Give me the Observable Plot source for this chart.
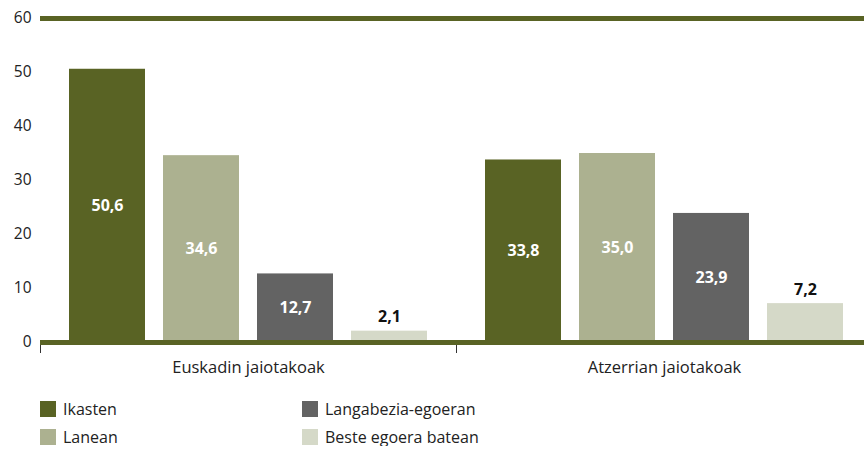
<!DOCTYPE html>
<html>
<head>
<meta charset="utf-8">
<script src="https://cdn.jsdelivr.net/npm/d3@7"></script>
<script src="https://cdn.jsdelivr.net/npm/@observablehq/plot@0.6"></script>
<style>
  body { margin: 0; background: #fff; font-family: "Open Sans", sans-serif; overflow: hidden; }
  #chart svg { display: block; }
  #legend { display: grid; grid-template-columns: 262px 320px; padding-left: 40px; row-gap: 10px; margin-top: 12px; font-size: 16px; color: #222; }
  .item { display: flex; align-items: center; height: 18px; line-height: 18px; white-space: nowrap; }
  .sw { width: 16px; height: 16px; margin-right: 7px; flex: none; }
</style>
</head>
<body>
<div id="chart"></div>
<div id="legend"></div>
<script>
const groups = ["Euskadin jaiotakoak", "Atzerrian jaiotakoak"];
const categories = ["Ikasten", "Lanean", "Langabezia-egoeran", "Beste egoera batean"];
const euskadi = [50.6, 34.6, 12.7, 2.1];
const atzerri = [33.8, 35.0, 23.9, 7.2];
const colors = ["#596324", "#acb190", "#636363", "#d5d9c8"];
const yTicks = [0, 10, 20, 30, 40, 50, 60];

const series = [euskadi, atzerri];
const data = groups.flatMap((g, i) => categories.map((c, j) => ({group: g, category: c, value: series[i][j]})));
const fmt = v => v.toFixed(1).replace(".", ",");
const inside = data.filter(d => d.category !== categories[3]);
const above = data.filter(d => d.category === categories[3]);
const olive = "#596324";

const chart = Plot.plot({
  width: 864,
  height: 388,
  marginTop: 18,
  marginLeft: 40,
  marginRight: -8,
  marginBottom: 46,
  style: {fontFamily: "Open Sans, sans-serif", fontSize: "15px", color: "#222", background: "#fff", overflow: "hidden"},
  fx: {domain: groups, padding: 0, label: null},
  x: {domain: categories, paddingInner: 0.194, paddingOuter: 0.297, axis: null},
  y: {domain: [0, 60], label: null},
  color: {domain: categories, range: colors},
  marks: [
    Plot.axisY({ticks: yTicks, tickSize: 0, tickPadding: 9, label: null, fontSize: 15.5}),
    Plot.axisFx({anchor: "bottom", tickSize: 0, tickPadding: 19, label: null, fontSize: 16.5}),
    Plot.barY(data, {fx: "group", x: "category", y: "value", fill: "category"}),
    Plot.frame({anchor: "left", stroke: "#333", strokeWidth: 1, insetTop: 324, insetBottom: -10}),
    Plot.ruleY([0, 60], {stroke: olive, strokeWidth: 5}),
    Plot.text(inside, {fx: "group", x: "category", y: d => d.value / 2, text: d => fmt(d.value), fill: "white", fontWeight: "bold", fontSize: 16}),
    Plot.text(above, {fx: "group", x: "category", y: "value", text: d => fmt(d.value), fill: "#111", fontWeight: "bold", fontSize: 16, dy: -14})
  ]
});
document.getElementById("chart").append(chart);

const legendOrder = [0, 2, 1, 3];
const legend = document.getElementById("legend");
for (const i of legendOrder) {
  const item = document.createElement("div");
  item.className = "item";
  const sw = document.createElement("span");
  sw.className = "sw";
  sw.style.background = colors[i];
  const label = document.createElement("span");
  label.textContent = categories[i];
  item.append(sw, label);
  legend.append(item);
}
</script>
</body>
</html>
